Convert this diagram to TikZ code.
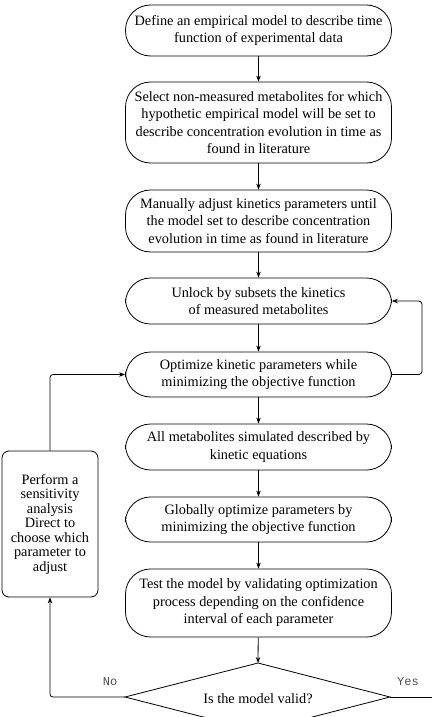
\documentclass[tikz,border=0pt]{standalone}
\usepackage{fontspec}
\setmainfont{Liberation Serif}
\newfontfamily\labfont{Liberation Mono}
\usetikzlibrary{arrows.meta}
\begin{document}
\begin{tikzpicture}[x=1pt,y=-1pt,
  proc/.style={draw, line width=0.8pt, rounded corners=25pt, minimum width=266pt, inner sep=0pt, align=center, font=\fontsize{14.3}{17.5}\selectfont},
  side/.style={draw, line width=0.8pt, rounded corners=7pt, minimum width=96pt, minimum height=146pt, inner sep=0pt, align=center, font=\fontsize{14.3}{14.5}\selectfont},
  arr/.style={line width=0.8pt, -{Stealth[length=6pt,width=4.5pt]}},
  ln/.style={line width=0.8pt},
  lab/.style={font=\labfont\fontsize{12}{14}\selectfont, text=black!70}
]
\useasboundingbox (0,0) rectangle (432,717);
\node[proc, minimum height=51pt] (b1) at (258.5,30.5) {Define an empirical model to describe time\\function of experimental data};
\node[proc, minimum height=81pt] (b2) at (258.5,122.5) {Select non-measured metabolites for which\\hypothetic empirical model will be set to\\describe concentration evolution in time as\\found in literature};
\node[proc, minimum height=62pt] (b3) at (258.5,221) {Manually adjust kinetics parameters until\\the model set to describe concentration\\evolution in time as found in literature};
\node[proc, minimum height=46pt] (b4) at (258.5,301) {Unlock by subsets the kinetics\\of measured metabolites};
\node[proc, minimum height=45pt] (b5) at (258.5,374.5) {Optimize kinetic parameters while\\minimizing the objective function};
\node[proc, minimum height=46pt] (b6) at (258.5,447) {All metabolites simulated described by\\kinetic equations};
\node[proc, minimum height=45pt] (b7) at (258.5,519.5) {Globally optimize parameters by\\minimizing the objective function};
\node[proc, minimum height=68pt] (b8) at (258.5,603) {Test the model by validating optimization\\process depending on the confidence\\interval of each parameter};
\node[side] (sa) at (50,524) {Perform a\\sensitivity\\analysis\\Direct to\\choose which\\parameter to\\adjust};
% diamond
\coordinate (dt) at (258,663);
\coordinate (dl) at (125,697);
\coordinate (dr) at (390,697);
\coordinate (db) at (258,731);
\draw[ln] (dt) -- (dr) -- (db) -- (dl) -- cycle;
\node[font=\fontsize{14.3}{17.5}\selectfont] (dtext) at (258,699) {Is the model valid?};
% connectors
\draw[arr] (b1) -- (b2);
\draw[arr] (b2) -- (b3);
\draw[arr] (b3) -- (b4);
\draw[arr] (b4) -- (b5);
\draw[arr] (b5) -- (b6);
\draw[arr] (b6) -- (b7);
\draw[arr] (b7) -- (b8);
\draw[arr] (b8) -- (dt);
\draw[arr, rounded corners=3pt] (b5.east) -- ++(30,0) |- (b4.east);
\draw[arr, rounded corners=3pt] (sa.north) |- (b5.west);
\draw[arr, rounded corners=3pt] (dl) -| (sa.south);
\coordinate (yesend) at (432,697);
\draw[ln] (dr) -- (yesend);
\node[lab] (no) at (110,682) {No};
\node[lab] (yes) at (408,682) {Yes};
\end{tikzpicture}
\end{document}
